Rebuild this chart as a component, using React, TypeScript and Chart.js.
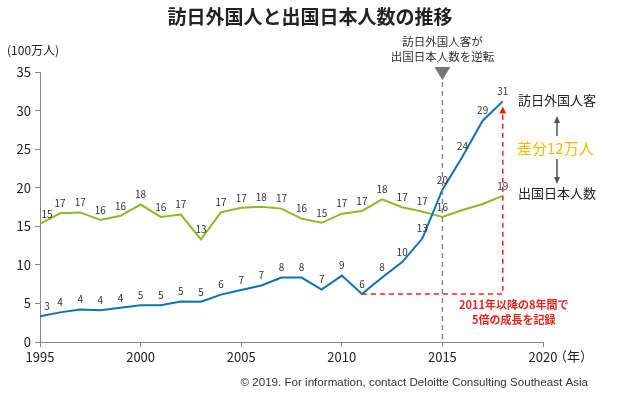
import React, { useEffect, useRef } from "react";
import { Chart, registerables } from "chart.js";

Chart.register(...registerables);

const years = [1995, 1996, 1997, 1998, 1999, 2000, 2001, 2002, 2003, 2004, 2005, 2006, 2007, 2008, 2009, 2010, 2011, 2012, 2013, 2014, 2015, 2016, 2017, 2018];
const visitors = [3.35, 3.84, 4.22, 4.11, 4.44, 4.76, 4.77, 5.24, 5.21, 6.14, 6.73, 7.33, 8.35, 8.35, 6.79, 8.61, 6.22, 8.36, 10.36, 13.41, 19.74, 24.04, 28.69, 31.19];
const outbound = [15.3, 16.69, 16.8, 15.81, 16.36, 17.82, 16.22, 16.52, 13.3, 16.83, 17.4, 17.53, 17.29, 15.99, 15.45, 16.64, 16.99, 18.49, 17.47, 16.9, 16.21, 17.12, 17.89, 18.95];
const outboundLabelShown = [1, 1, 1, 1, 1, 1, 1, 1, 1, 1, 1, 1, 1, 1, 1, 1, 1, 1, 1, 1, 1, 0, 0, 1];
const xTicks = [1995, 2000, 2005, 2010, 2015, 2020];
const yTicks = [0, 5, 10, 15, 20, 25, 30, 35];

const TITLE = "訪日外国人と出国日本人数の推移";
const UNIT = "(100万人)";
const VISITOR_NAME = "訪日外国人客";
const OUTBOUND_NAME = "出国日本人数";
const DIFF_TEXT = "差分12万人";
const CROSS_NOTE = ["訪日外国人客が", "出国日本人数を逆転"];
const GROWTH_NOTE = ["2011年以降の8年間で", "5倍の成長を記録"];
const CROSS_YEAR = 2015;
const GROWTH_FROM = 2011;
const GROWTH_TO = 2018;
const FOOTER = "© 2019. For information, contact Deloitte Consulting Southeast Asia";

const BLUE = "#0e72ad";
const GREEN = "#86bc25";
const RED = "#e5251c";
const GOLD = "#f5b800";
const JP = '"Noto Sans CJK JP", "Noto Sans", sans-serif';

const overlay = {
  id: "overlay",
  afterDatasetsDraw(chart: any) {
    const ctx = chart.ctx;
    const xs = chart.scales.x;
    const ys = chart.scales.y;
    ctx.save();
    ctx.font = `10px ${JP}`;
    ctx.fillStyle = "#333";
    ctx.textAlign = "center";
    ctx.textBaseline = "middle";
    years.forEach((yr, i) => {
      const dx = i === 0 ? 7 : 0;
      const px = xs.getPixelForValue(yr) + dx;
      ctx.fillText(String(Math.round(visitors[i])), px, ys.getPixelForValue(visitors[i]) - 10);
      if (outboundLabelShown[i]) {
        ctx.fillText(String(Math.round(outbound[i])), px, ys.getPixelForValue(outbound[i]) - 10);
      }
    });
    ctx.restore();
  },
  afterDraw(chart: any) {
    const ctx = chart.ctx;
    const xs = chart.scales.x;
    const ys = chart.scales.y;
    const area = chart.chartArea;
    ctx.save();
    // title
    ctx.fillStyle = "#222";
    ctx.font = `bold 19px ${JP}`;
    ctx.textAlign = "center";
    ctx.textBaseline = "middle";
    ctx.fillText(TITLE, 310, 17);
    // unit
    ctx.font = `12px ${JP}`;
    ctx.textAlign = "left";
    ctx.fillStyle = "#222";
    ctx.fillText(UNIT, 7, 50);
    // year suffix
    ctx.font = `13px ${JP}`;
    ctx.fillText("（年）", 554, 356);

    // crossing annotation
    const cx = xs.getPixelForValue(CROSS_YEAR);
    ctx.font = `11.5px ${JP}`;
    ctx.textAlign = "center";
    ctx.fillStyle = "#333";
    ctx.fillText(CROSS_NOTE[0], cx, 42);
    ctx.fillText(CROSS_NOTE[1], cx, 57);
    ctx.fillStyle = "#777";
    ctx.beginPath();
    ctx.moveTo(cx - 8, 67);
    ctx.lineTo(cx + 8, 67);
    ctx.lineTo(cx, 80);
    ctx.closePath();
    ctx.fill();
    ctx.strokeStyle = "#888";
    ctx.lineWidth = 1.5;
    ctx.setLineDash([5, 4]);
    ctx.beginPath();
    ctx.moveTo(cx, 82);
    ctx.lineTo(cx, area.bottom);
    ctx.stroke();

    // growth annotation
    const i0 = years.indexOf(GROWTH_FROM);
    const i1 = years.indexOf(GROWTH_TO);
    const gx0 = xs.getPixelForValue(GROWTH_FROM);
    const gx1 = xs.getPixelForValue(GROWTH_TO);
    const gy0 = ys.getPixelForValue(visitors[i0]);
    const gy1 = ys.getPixelForValue(visitors[i1]);
    ctx.strokeStyle = RED;
    ctx.beginPath();
    ctx.moveTo(gx0, gy0);
    ctx.lineTo(gx1, gy0);
    ctx.lineTo(gx1, gy1 + 10);
    ctx.stroke();
    ctx.setLineDash([]);
    ctx.fillStyle = RED;
    ctx.beginPath();
    ctx.moveTo(gx1 - 3.5, gy1 + 12);
    ctx.lineTo(gx1 + 3.5, gy1 + 12);
    ctx.lineTo(gx1, gy1 + 5);
    ctx.closePath();
    ctx.fill();
    ctx.font = `bold 11px ${JP}`;
    ctx.fillText(GROWTH_NOTE[0], gx1 + 11, 305);
    ctx.fillText(GROWTH_NOTE[1], gx1 + 11, 320);

    // right labels
    ctx.textAlign = "left";
    ctx.fillStyle = "#222";
    ctx.font = `13px ${JP}`;
    ctx.fillText(VISITOR_NAME, 518, 100);
    ctx.fillText(OUTBOUND_NAME, 518, 193);
    ctx.fillStyle = GOLD;
    ctx.font = `15px ${JP}`;
    ctx.fillText(DIFF_TEXT, 517, 148);
    // difference arrows
    const ax = 557;
    ctx.strokeStyle = "#4a5560";
    ctx.fillStyle = "#4a5560";
    ctx.lineWidth = 1.5;
    ctx.beginPath();
    ctx.moveTo(ax, 136);
    ctx.lineTo(ax, 122);
    ctx.moveTo(ax, 159);
    ctx.lineTo(ax, 178);
    ctx.stroke();
    ctx.beginPath();
    ctx.moveTo(ax - 3, 123);
    ctx.lineTo(ax + 3, 123);
    ctx.lineTo(ax, 116);
    ctx.closePath();
    ctx.fill();
    ctx.beginPath();
    ctx.moveTo(ax - 3, 177);
    ctx.lineTo(ax + 3, 177);
    ctx.lineTo(ax, 184);
    ctx.closePath();
    ctx.fill();

    // footer
    ctx.textAlign = "right";
    ctx.fillStyle = "#333";
    ctx.font = `11.6px "Liberation Sans", Arial, sans-serif`;
    ctx.fillText(FOOTER, 588, 383);
    ctx.restore();
  },
};

export default function App() {
  const ref = useRef<HTMLCanvasElement | null>(null);
  useEffect(() => {
    document.body.style.margin = "0";
    const chart = new Chart(ref.current as HTMLCanvasElement, {
      type: "line",
      data: {
        datasets: [
          {
            label: VISITOR_NAME,
            data: years.map((x, i) => ({ x, y: visitors[i] })),
            borderColor: BLUE,
            borderWidth: 2,
            pointRadius: 0,
            tension: 0,
          },
          {
            label: OUTBOUND_NAME,
            data: years.map((x, i) => ({ x, y: outbound[i] })),
            borderColor: GREEN,
            borderWidth: 2,
            pointRadius: 0,
            tension: 0,
          },
        ],
      },
      options: {
        responsive: false,
        animation: false,
        layout: { padding: { top: 72, right: 77, bottom: 0, left: 0 } },
        plugins: { legend: { display: false }, tooltip: { enabled: false } },
        scales: {
          x: {
            type: "linear",
            min: 1995,
            max: 2020,
            afterFit: (s: any) => { s.height = 51; },
            afterBuildTicks: (s: any) => { s.ticks = xTicks.map((v) => ({ value: v })); },
            grid: { drawOnChartArea: false, tickLength: 5, color: "#888" },
            border: { color: "#888", width: 1 },
            ticks: {
              color: "#222",
              font: { size: 13, family: JP },
              padding: 2,
              maxRotation: 0,
              callback: (v: any) => String(v),
            },
          },
          y: {
            min: 0,
            max: 35,
            afterFit: (s: any) => { s.width = 40; },
            afterBuildTicks: (s: any) => { s.ticks = yTicks.map((v) => ({ value: v })); },
            grid: { drawOnChartArea: false, tickLength: 5, color: "#888" },
            border: { color: "#888", width: 1 },
            ticks: { color: "#222", font: { size: 13, family: JP }, padding: 4 },
          },
        },
      },
      plugins: [overlay],
    });
    return () => chart.destroy();
  }, []);
  return (
    <div style={{ width: 620, height: 393, background: "#fff" }}>
      <canvas ref={ref} width={620} height={393} style={{ display: "block" }} />
    </div>
  );
}
